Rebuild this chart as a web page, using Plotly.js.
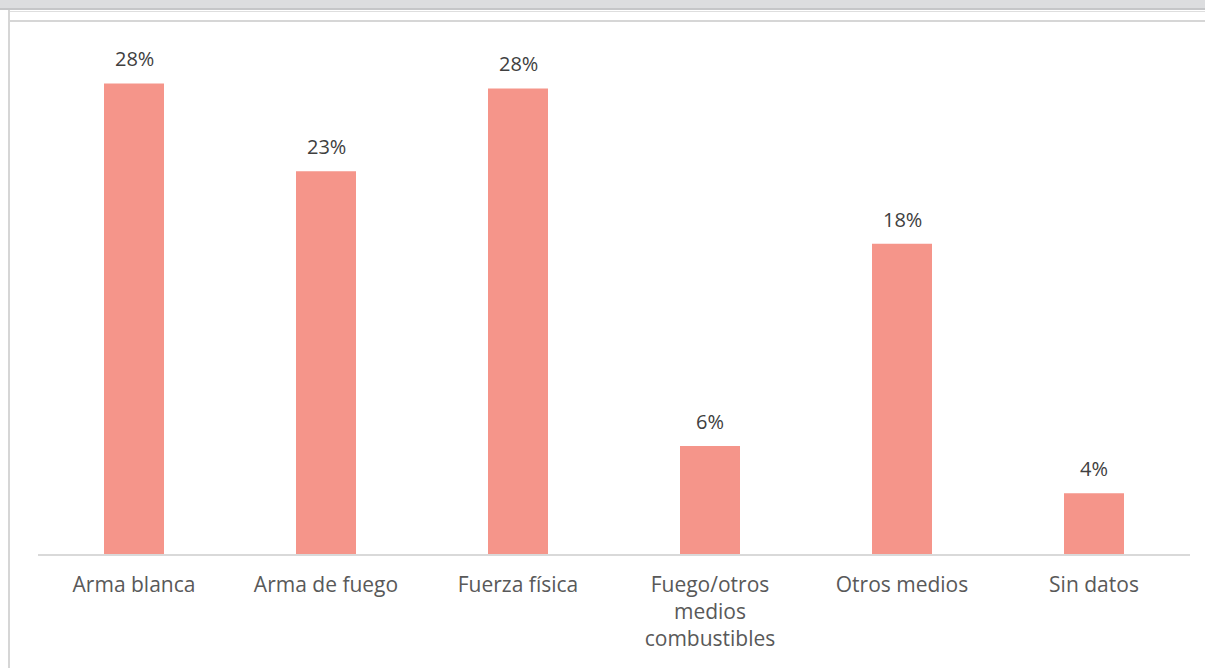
<!DOCTYPE html>
<html>
<head>
<meta charset="utf-8">
<script src="https://cdn.plot.ly/plotly-3.0.1.min.js"></script>
<style>
  html, body { margin: 0; padding: 0; background: #ffffff; }
  #wrap { position: relative; width: 1205px; height: 668px; overflow: hidden; background: #ffffff; }
  .deco { position: absolute; }
  #chart { position: absolute; left: 0; top: 0; width: 1205px; height: 668px; }
</style>
</head>
<body>
<div id="wrap">
  <div class="deco" style="left:0;top:0;width:1205px;height:8px;background:#dcdddf;"></div>
  <div class="deco" style="left:0;top:8px;width:1205px;height:2px;background:#c5c6c8;"></div>
  <div class="deco" style="left:8px;top:10px;width:2px;height:658px;background:#d6d6d6;"></div>
  <div class="deco" style="left:10px;top:11px;width:1195px;height:1px;background:#dedede;"></div>
  <div class="deco" style="left:10px;top:20px;width:1195px;height:2px;background:#d6d6d6;"></div>
  <div id="chart"></div>
</div>
<script>
const categories = ["Arma blanca", "Arma de fuego", "Fuerza física", "Fuego/otros<br>medios<br>combustibles", "Otros medios", "Sin datos"];
const shares = [0.279, 0.227, 0.276, 0.064, 0.184, 0.036];
const labels = ["28%", "23%", "28%", "6%", "18%", "4%"];

const trace = {
  type: "bar",
  x: categories,
  y: shares,
  marker: { color: "#f5958a", line: { width: 0 } },
  hoverinfo: "none"
};

const annotations = categories.map((c, i) => ({
  x: c, y: shares[i], xref: "x", yref: "y",
  text: labels[i], showarrow: false,
  yanchor: "bottom", yshift: 9,
  font: { family: "Open Sans", size: 20, color: "#404040" }
}));

const layout = {
  width: 1205, height: 668,
  margin: { l: 38, r: 15, t: 48, b: 114 },
  paper_bgcolor: "rgba(0,0,0,0)",
  plot_bgcolor: "rgba(0,0,0,0)",
  bargap: 0.6875,
  showlegend: false,
  xaxis: {
    type: "category",
    showline: true, linecolor: "#d9d9d9", linewidth: 1.5,
    ticks: "", showgrid: false, zeroline: false,
    tickfont: { family: "Open Sans", size: 21, color: "#595959" },
    ticklabelstandoff: 11
  },
  yaxis: {
    range: [0, 0.30],
    visible: false, showgrid: false, zeroline: false
  },
  annotations: annotations
};

Plotly.newPlot("chart", [trace], layout, { displayModeBar: false, staticPlot: true });
</script>
</body>
</html>
